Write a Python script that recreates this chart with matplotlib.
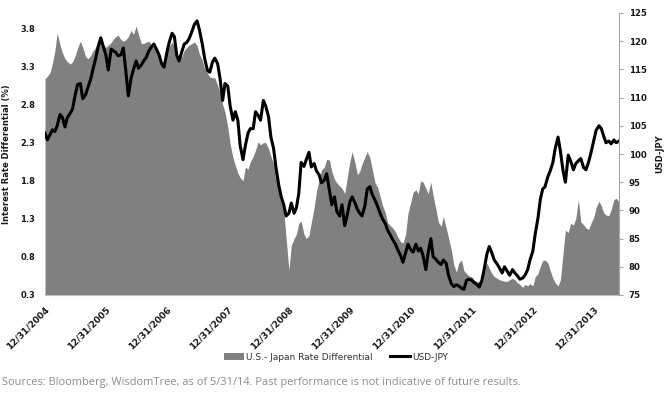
import matplotlib
matplotlib.use("Agg")
import matplotlib.pyplot as plt
from matplotlib.patches import Patch
from matplotlib.lines import Line2D
import pandas as pd

# semi-monthly readings, 12/31/2004 .. 5/31/2014
diff_2005 = [3.14,3.17,3.22,3.35,3.50,3.74,3.58,3.48,3.40,3.36,3.33,3.36,3.44,3.54,3.63,3.55,3.43,3.40,3.44,3.50,3.55,3.62,3.62,3.58]
diff_2006 = [3.55,3.58,3.61,3.66,3.69,3.71,3.65,3.63,3.65,3.69,3.77,3.72,3.83,3.72,3.60,3.60,3.62,3.63,3.58,3.55,3.49,3.44,3.34,3.37]
diff_2007 = [3.47,3.56,3.62,3.56,3.42,3.38,3.43,3.51,3.55,3.58,3.60,3.62,3.57,3.46,3.38,3.27,3.21,3.16,3.15,3.15,3.05,2.95,2.80,2.70]
diff_2008 = [2.50,2.28,2.10,2.00,1.90,1.84,1.80,1.98,1.95,2.05,2.12,2.20,2.31,2.27,2.30,2.30,2.22,2.12,2.02,1.90,1.70,1.60,1.42,1.05]
diff_2009 = [0.63,0.95,1.04,1.10,1.24,1.27,1.10,1.04,1.08,1.25,1.45,1.66,1.82,1.94,1.98,2.08,2.07,1.92,1.82,1.77,1.73,1.70,1.63,1.82]
diff_2010 = [2.05,2.18,2.03,1.88,1.92,2.02,2.11,2.18,2.10,1.95,1.77,1.72,1.60,1.48,1.38,1.25,1.21,1.18,1.13,1.06,1.00,0.98,1.10,1.37]
diff_2011 = [1.52,1.65,1.68,1.63,1.80,1.78,1.70,1.63,1.78,1.60,1.42,1.26,1.20,1.33,1.18,1.05,0.89,0.70,0.60,0.72,0.76,0.62,0.58,0.55]
diff_2012 = [0.54,0.50,0.47,0.48,0.52,0.66,0.72,0.65,0.58,0.54,0.52,0.50,0.49,0.48,0.48,0.50,0.52,0.50,0.46,0.44,0.40,0.44,0.42,0.45]
diff_2013 = [0.42,0.54,0.58,0.68,0.75,0.76,0.72,0.62,0.52,0.46,0.42,0.50,0.85,1.15,1.12,1.24,1.22,1.30,1.55,1.26,1.22,1.18,1.16,1.24]
diff_2014 = [1.32,1.45,1.53,1.47,1.38,1.35,1.34,1.42,1.55,1.57,1.52]

jpy_2005 = [103.7,102.5,103.5,104.3,104.0,105.0,107.0,106.5,104.8,106.5,107.2,108.0,110.5,112.3,112.5,109.8,110.5,111.8,113.2,115.0,117.0,119.0,120.6,119.2]
jpy_2006 = [117.5,114.9,118.6,118.3,118.0,117.4,117.6,118.8,114.5,110.3,113.5,115.0,116.5,115.2,115.8,116.5,117.2,118.3,119.0,119.5,118.5,117.6,116.0,115.4]
jpy_2007 = [118.0,119.8,121.4,120.8,117.5,116.5,118.2,119.5,119.8,120.5,121.8,123.0,123.6,122.0,119.5,117.0,114.8,114.5,116.3,117.0,116.0,113.5,109.5,112.5]
jpy_2008 = [112.0,108.5,106.0,107.5,106.0,101.5,99.0,101.5,103.7,104.5,104.5,107.5,106.8,106.0,109.5,108.5,106.6,103.0,101.0,97.7,94.5,92.5,91.0,89.0]
jpy_2009 = [89.5,91.3,89.5,90.5,93.0,98.5,97.8,99.0,100.3,97.7,98.3,97.0,96.3,94.9,95.4,96.5,93.5,91.0,92.4,89.8,89.0,91.0,87.3,89.0]
jpy_2010 = [91.5,92.4,91.3,90.2,89.5,89.0,90.8,93.8,94.2,92.8,91.8,90.8,89.5,88.5,87.7,86.5,85.6,84.8,84.0,83.0,82.0,80.8,82.5,84.0]
jpy_2011 = [83.0,82.6,84.0,82.8,83.3,82.0,79.5,82.5,85.0,81.8,81.3,80.8,80.4,81.2,80.6,78.5,77.0,76.5,76.8,76.6,76.2,76.0,77.6,77.8]
jpy_2012 = [77.6,77.2,76.9,76.4,77.5,79.5,82.3,83.6,82.4,81.2,80.5,79.8,78.9,80.0,79.2,78.5,79.5,78.9,78.4,77.8,78.0,78.5,79.5,81.2]
jpy_2013 = [82.8,85.8,88.7,92.0,93.8,94.2,96.0,97.0,98.5,101.0,103.0,100.5,97.0,95.0,99.8,98.8,97.2,98.3,98.8,99.2,97.6,97.2,98.6,100.2]
jpy_2014 = [102.4,104.2,105.0,104.5,103.2,102.0,102.3,101.8,102.5,102.0,102.3]

diff = diff_2005+diff_2006+diff_2007+diff_2008+diff_2009+diff_2010+diff_2011+diff_2012+diff_2013+diff_2014
jpy = jpy_2005+jpy_2006+jpy_2007+jpy_2008+jpy_2009+jpy_2010+jpy_2011+jpy_2012+jpy_2013+jpy_2014

dates = pd.date_range("2005-01-01", periods=len(diff), freq="SMS") - pd.Timedelta(days=1)
tick_dates = pd.to_datetime(["%d-12-31" % y for y in range(2004, 2014)])

plt.rcParams['font.family'] = ['DejaVu Sans']

fig = plt.figure(figsize=(6.7, 3.98), dpi=100)
ax = fig.add_axes([45/670, 1-295/398, 574/670, 282/398])
ax2 = ax.twinx()

ax.fill_between(dates, 0.3, diff, color="#808080", linewidth=0)
ax2.plot(dates, jpy, color="black", linewidth=2.2)

ax.set_xlim(dates[0], dates[-1])
ax.set_ylim(0.3, 4.0)
ax.set_yticks([0.3, 0.8, 1.3, 1.8, 2.3, 2.8, 3.3, 3.8])
ax.set_yticklabels(["0.3", "0.8", "1.3", "1.8", "2.3", "2.8", "3.3", "3.8"])
ax2.set_ylim(75, 125)
ax2.set_yticks(range(75, 126, 5))

ax.set_xticks(tick_dates)
ax.set_xticklabels([d.strftime("%m/%d/%Y") for d in tick_dates])
for lab in ax.get_xticklabels():
    lab.set_rotation(45)
    lab.set_ha("right")
    lab.set_va("top")
    lab.set_rotation_mode("anchor")

txt = "#1a1a1a"
ax.tick_params(axis="x", length=0, pad=7, labelsize=6.5, labelcolor=txt)
ax.tick_params(axis="y", length=0, pad=7, labelsize=6, labelcolor=txt)
ax2.tick_params(axis="y", length=3, width=0.8, color="#a6a6a6", pad=4, labelsize=6.2, labelcolor=txt)
for lab in ax.get_xticklabels() + ax.get_yticklabels() + ax2.get_yticklabels():
    lab.set_fontweight("bold")

for a in (ax, ax2):
    a.spines["top"].set_visible(False)
    a.spines["left"].set_visible(False)
    a.spines["bottom"].set_color("#bfbfbf")
ax.spines["right"].set_visible(False)
ax2.spines["right"].set_color("#a6a6a6")
ax2.spines["bottom"].set_visible(False)

ax.set_ylabel("Interest Rate Differential (%)", fontsize=6, fontweight="bold", color=txt)
ax.yaxis.set_label_coords(-0.059, 0.5)
ax2.set_ylabel("USD-JPY", fontsize=6, fontweight="bold", color=txt)
ax2.yaxis.set_label_coords(1.063, 0.5)

handles = [Patch(facecolor="#808080", edgecolor="none"),
           Line2D([0], [0], color="black", linewidth=2.2)]
fig.legend(handles, ["U.S.- Japan Rate Differential", "USD-JPY"], loc="center",
           bbox_to_anchor=(336/670, 1-357/398), ncol=2, frameon=False,
           fontsize=6.5, handlelength=2.2, handletextpad=0.2, columnspacing=2.0,
           labelcolor="#333333")

fig.text(2/670, 1-382/398,
         "Sources: Bloomberg, WisdomTree, as of 5/31/14. Past performance is not indicative of future results.",
         fontsize=7.9, color="#8c8c8c", family="Open Sans", va="center", ha="left")

fig.savefig("out.png", dpi=100)
